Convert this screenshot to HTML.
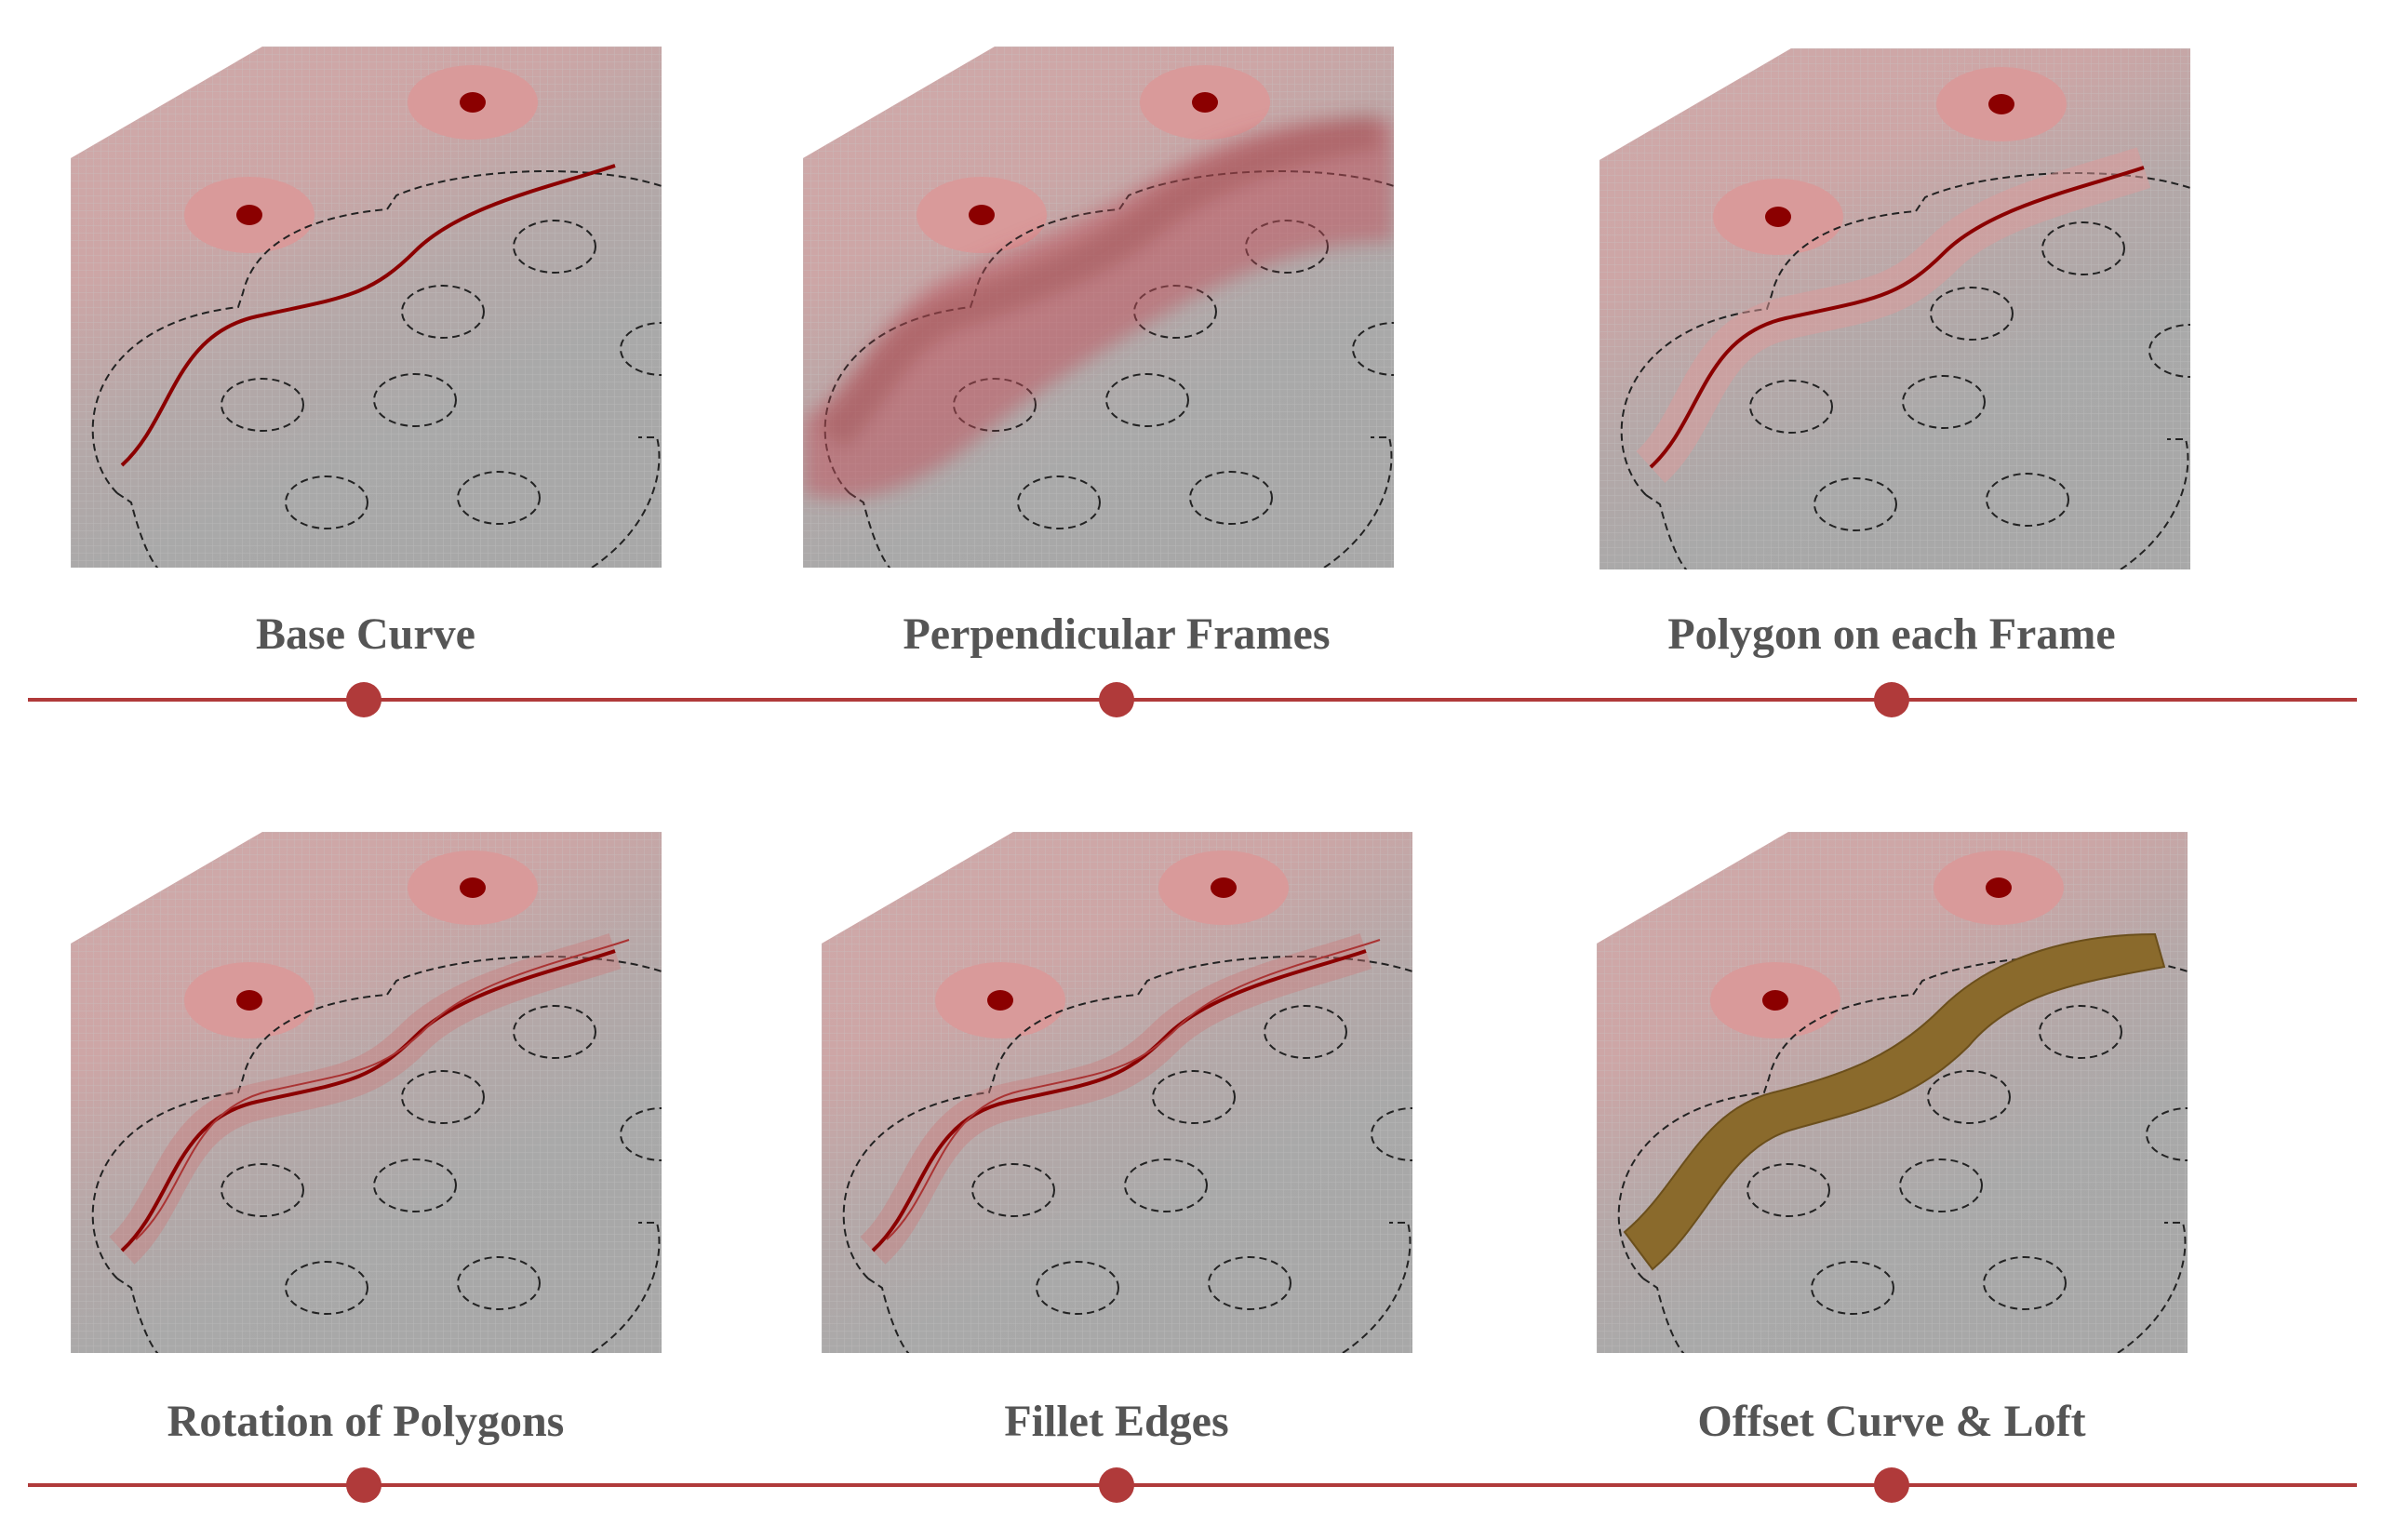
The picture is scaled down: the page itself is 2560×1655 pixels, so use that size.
<!DOCTYPE html>
<html><head><meta charset="utf-8"><style>
html,body{margin:0;padding:0;background:#fff;}
svg{display:block}
text{font-family:"Liberation Serif",serif;font-weight:bold;font-size:48px;fill:#555;text-anchor:middle}
</style></head><body>
<svg width="2560" height="1655" viewBox="0 0 2560 1655" xmlns="http://www.w3.org/2000/svg">
<defs>
<clipPath id="cp"><path d="M0,120 L206,0 L635,0 L635,560 L0,560 Z"/></clipPath>
<linearGradient id="pk" x1="0" y1="0" x2="0.55" y2="1">
<stop offset="0" stop-color="#cfa9a9"/>
<stop offset="0.35" stop-color="#cda6a6"/>
<stop offset="0.6" stop-color="#b4a8a8"/>
<stop offset="0.8" stop-color="#a9a9a9"/>
<stop offset="1" stop-color="#a8a8a8"/>
</linearGradient>
<pattern id="grid" width="8" height="8" patternUnits="userSpaceOnUse">
<path d="M0,0 L8,0 M0,0 L0,8" stroke="#c8c8c8" stroke-width="1" opacity="0.5"/>
</pattern>
<g id="panel">
<g clip-path="url(#cp)">
<rect width="635" height="560" fill="url(#pk)"/>
<rect width="635" height="560" fill="url(#grid)"/>
<ellipse cx="192" cy="181" rx="70" ry="41" fill="#d99a9a"/>
<ellipse cx="432" cy="60" rx="70" ry="40" fill="#d99a9a"/>
<ellipse cx="192" cy="181" rx="14" ry="11" fill="#8b0000"/>
<ellipse cx="432" cy="60" rx="14" ry="11" fill="#8b0000"/>
<g fill="none" stroke="#222" stroke-width="2" stroke-dasharray="8,5">
<path d="M50,480 C0,430 10,300 180,280 L185,265 C200,200 280,180 340,175 L350,160 C420,130 560,125 635,150"/>
<path d="M50,480 L65,490 C80,550 100,580 110,560 M560,560 C620,520 640,460 630,420 L610,420"/>
<ellipse cx="520" cy="215" rx="44" ry="28"/>
<ellipse cx="400" cy="285" rx="44" ry="28"/>
<ellipse cx="635" cy="325" rx="44" ry="28"/>
<ellipse cx="206" cy="385" rx="44" ry="28"/>
<ellipse cx="370" cy="380" rx="44" ry="28"/>
<ellipse cx="275" cy="490" rx="44" ry="28"/>
<ellipse cx="460" cy="485" rx="44" ry="28"/>
</g>
</g>
</g>
<path id="crv" d="M55,450 C110,400 110,310 200,290 S 320,270 370,220 S 520,150 585,128"/>
<filter id="bl"><feGaussianBlur stdDeviation="10"/></filter>
</defs>
<g transform="translate(76,50)"><use href="#panel"/>
<use href="#crv" fill="none" stroke="#8b0000" stroke-width="4"/></g>
<g transform="translate(863,50)"><use href="#panel"/>
<g clip-path="url(#cp)" filter="url(#bl)"><path d="M0,400 C60,360 80,290 150,250 C240,210 300,190 380,140 C460,90 560,70 635,80 L635,210 C560,210 500,230 420,270 C330,320 250,370 190,420 C130,470 60,500 0,480 Z" fill="#c0505a" opacity="0.5"/>
<path d="M30,420 C80,370 100,300 180,280 C260,250 320,230 380,180 C460,120 560,100 620,90" stroke="#8a3a3a" stroke-width="40" fill="none" opacity="0.3"/></g></g>
<g transform="translate(1719,52)"><use href="#panel"/>
<use href="#crv" fill="none" stroke="#d99" stroke-width="46" opacity="0.5"/>
<use href="#crv" fill="none" stroke="#8b0000" stroke-width="4"/></g>
<g transform="translate(76,894)"><use href="#panel"/>
<use href="#crv" fill="none" stroke="#c77" stroke-width="40" opacity="0.4"/>
<use href="#crv" fill="none" stroke="#8b0000" stroke-width="4"/>
<use href="#crv" transform="translate(15,-12)" fill="none" stroke="#a33" stroke-width="2"/></g>
<g transform="translate(883,894)"><use href="#panel"/>
<use href="#crv" fill="none" stroke="#c77" stroke-width="40" opacity="0.4"/>
<use href="#crv" fill="none" stroke="#8b0000" stroke-width="4"/>
<use href="#crv" transform="translate(15,-12)" fill="none" stroke="#a33" stroke-width="2"/></g>
<g transform="translate(1716,894)"><use href="#panel"/>
<path d="M30,430 C90,380 110,300 190,280 C270,260 320,240 370,190 C430,130 520,110 600,110 L610,145 C530,160 450,170 400,230 C340,290 280,300 210,320 C140,340 120,420 60,470 Z" fill="#8a6a2c" stroke="#6b4f1c" stroke-width="2"/></g>
<text x="393" y="697">Base Curve</text>
<text x="1200" y="697">Perpendicular Frames</text>
<text x="2033" y="697">Polygon on each Frame</text>
<text x="393" y="1543">Rotation of Polygons</text>
<text x="1200" y="1543">Fillet Edges</text>
<text x="2033" y="1543">Offset Curve &amp; Loft</text>
<g fill="#b03a3a">
<rect x="30" y="750" width="2503" height="4"/>
<circle cx="391" cy="752" r="19"/><circle cx="1200" cy="752" r="19"/><circle cx="2033" cy="752" r="19"/>
<rect x="30" y="1594" width="2503" height="4"/>
<circle cx="391" cy="1596" r="19"/><circle cx="1200" cy="1596" r="19"/><circle cx="2033" cy="1596" r="19"/>
</g>
</svg>
</body></html>
